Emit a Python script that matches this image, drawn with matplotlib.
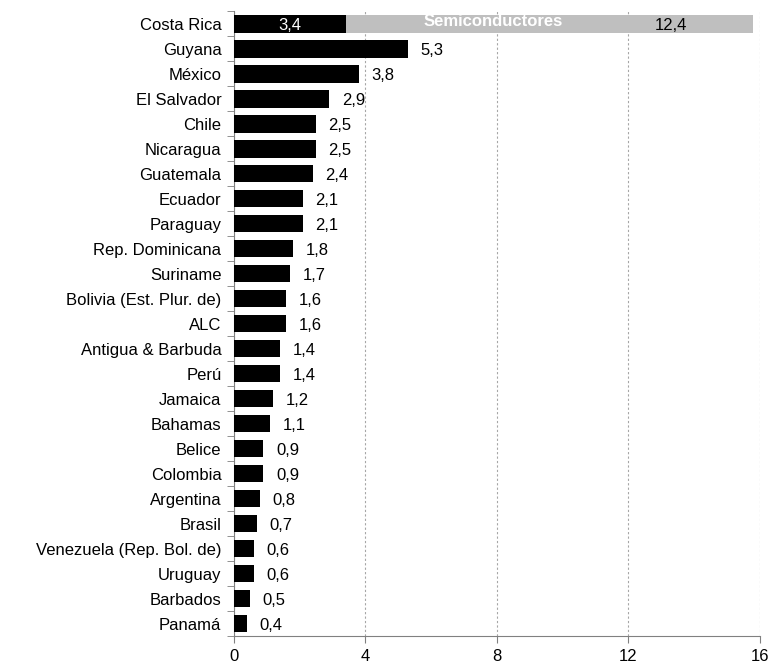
import numpy as np
import matplotlib.pyplot as plt

plt.rcParams['font.family'] = ['Liberation Sans', 'DejaVu Sans']

paises = ["Costa Rica", "Guyana", "México", "El Salvador", "Chile", "Nicaragua",
          "Guatemala", "Ecuador", "Paraguay", "Rep. Dominicana", "Suriname",
          "Bolivia (Est. Plur. de)", "ALC", "Antigua & Barbuda", "Perú", "Jamaica",
          "Bahamas", "Belice", "Colombia", "Argentina", "Brasil",
          "Venezuela (Rep. Bol. de)", "Uruguay", "Barbados", "Panamá"]
valores = [3.4, 5.3, 3.8, 2.9, 2.5, 2.5, 2.4, 2.1, 2.1, 1.8, 1.7, 1.6, 1.6,
           1.4, 1.4, 1.2, 1.1, 0.9, 0.9, 0.8, 0.7, 0.6, 0.6, 0.5, 0.4]
semiconductores = 12.4  # extra segment stacked on Costa Rica

fs = 12

fig = plt.figure(figsize=(7.72, 6.66), dpi=100)
ax = fig.add_axes([0.303, 0.045, 0.681, 0.938])

y = np.arange(len(paises))[::-1]
ax.barh(y, valores, height=0.7, color='black', zorder=3)
ax.barh(y[0], semiconductores, left=valores[0], height=0.7, color='#bfbfbf', zorder=3)

fmt = lambda v: f"{v:.1f}".replace('.', ',')
for yi, v in zip(y[1:], valores[1:]):
    ax.annotate(fmt(v), (v, yi), xytext=(9, -1.5), textcoords='offset points',
                ha='left', va='center', fontsize=fs)

# Costa Rica labels
ax.text(valores[0] / 2, y[0] - 0.05, fmt(valores[0]), color='white', ha='center',
        va='center', fontsize=fs, zorder=4)
ax.text(7.9, y[0] + 0.1, "Semiconductores", color='white', fontweight='bold',
        ha='center', va='center', fontsize=fs, zorder=4)
ax.text(13.3, y[0] - 0.05, fmt(semiconductores), color='black', ha='center',
        va='center', fontsize=fs, zorder=4)

ax.set_xlim(0, 16)
ax.set_ylim(-0.5, len(paises) - 0.5)
ax.set_xticks([0, 4, 8, 12, 16])
ax.set_xticklabels(['0', '4', '8', '12', '16'], fontsize=fs)
ax.set_yticks(y)
ax.set_yticklabels(paises, fontsize=fs)
ax.set_yticks(np.arange(-0.5, len(paises), 1), minor=True)
ax.tick_params(axis='y', which='major', length=0, pad=9)
ax.tick_params(axis='y', which='minor', length=5, color='#808080')
ax.tick_params(axis='x', length=5, color='#808080', pad=4)

ax.xaxis.grid(True, linestyle=(0, (2, 2)), color='#a6a6a6', linewidth=0.8, zorder=0)
for s in ['top', 'right']:
    ax.spines[s].set_visible(False)
for s in ['left', 'bottom']:
    ax.spines[s].set_color('#808080')

fig.savefig('out.png', dpi=100)
